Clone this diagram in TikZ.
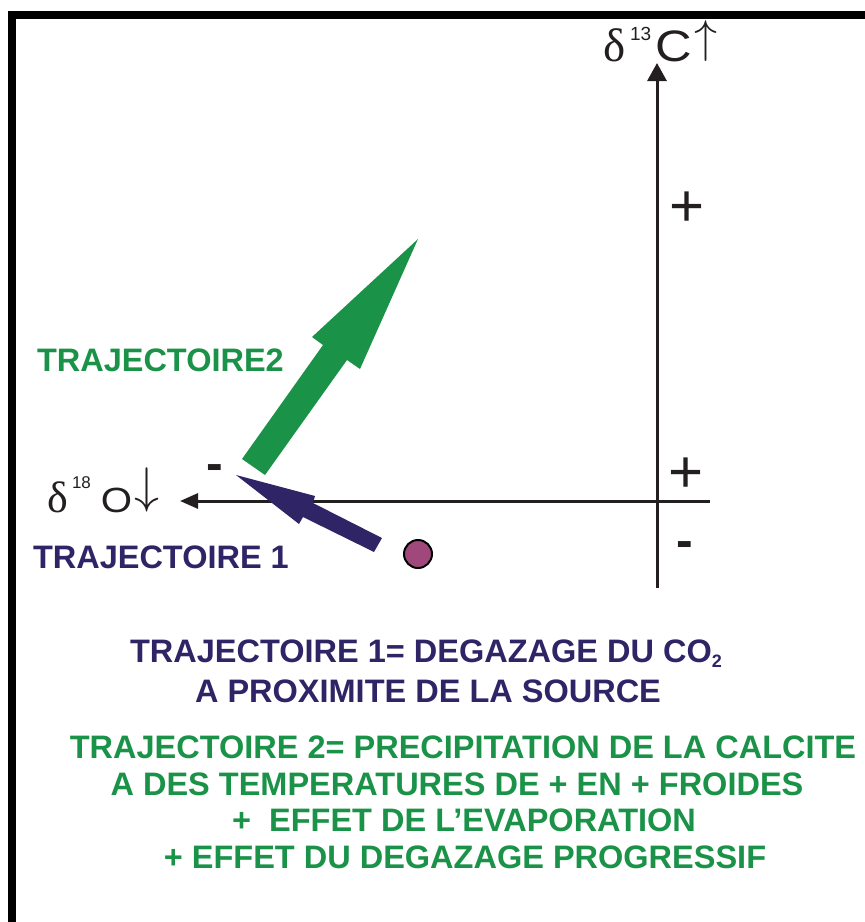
\documentclass[tikz,border=0pt]{standalone}
\usepackage{fontspec}
\usepackage{graphicx}
\usetikzlibrary{arrows.meta}
\setmainfont{Liberation Sans}
\newfontfamily\grk{Liberation Serif}
\newfontfamily\gothic{Liberation Sans}
\definecolor{tgreen}{RGB}{26,146,72}
\definecolor{tnavy}{RGB}{46,36,102}
\definecolor{tdot}{RGB}{160,72,124}
\definecolor{ink}{RGB}{35,31,32}
\tikzset{
  lbl/.style={inner sep=0pt, outer sep=0pt},
  boldtxt/.style={lbl, anchor=base, font=\fontsize{32.5}{32.5}\selectfont\bfseries},
  axisline/.style={draw=ink, line width=3pt},
  plussign/.style={lbl, anchor=center, text=ink, font=\fontsize{60}{60}\selectfont},
  minussign/.style={lbl, anchor=center, text=ink, font=\fontsize{50}{50}\selectfont\bfseries},
}
\begin{document}
\begin{tikzpicture}[x=1pt,y=-1pt]
\useasboundingbox (0,0) rectangle (865,922);
% frame
\fill[black] (8,11) rectangle (865,19);
\fill[black] (8,11) rectangle (16,922);
% axes
\coordinate (vbot) at (657,588);
\coordinate (vtop) at (657,63);
\coordinate (hright) at (710,501);
\coordinate (hleft) at (180,501);
\draw[axisline, -{Triangle[length=18pt,width=19pt]}] (vbot) -- (vtop);
\draw[axisline, -{Triangle[length=18pt,width=15pt]}] (hright) -- (hleft);
% axis labels
\node[lbl, anchor=base west, text=ink] (dC) at (603,61)
  {\makebox[27pt][l]{\grk\fontsize{47}{47}\selectfont δ}%
   \makebox[25pt][l]{\raisebox{21pt}{\gothic\fontsize{19}{19}\selectfont 13}}%
   \makebox[39pt][l]{\scalebox{1.15}[1]{\gothic\fontsize{44}{44}\selectfont C}}%
   \raisebox{8.9pt}{\scalebox{4.6}{$\uparrow$}}};
\node[lbl, anchor=base west, text=ink] (dO) at (47,512)
  {\makebox[25pt][l]{\grk\fontsize{44}{44}\selectfont δ}%
   \makebox[29pt][l]{\raisebox{24pt}{\gothic\fontsize{17}{17}\selectfont 18}}%
   \makebox[34pt][l]{\scalebox{1.15}[1]{\gothic\fontsize{35}{35}\selectfont O}}%
   \raisebox{9.7pt}{\scalebox{5}{$\downarrow$}}};
% signs
\node[plussign] (p1) at (687,209) {+};
\node[plussign] (p2) at (686,475) {+};
\node[minussign] (m1) at (685,550) {-};
\node[minussign] (m2) at (215,473) {-};
% trajectory arrows
\fill[tgreen] (242,459) -- (323,345) -- (312,337) -- (418,239) -- (360,369) -- (347,360) -- (265,475) -- cycle;
\fill[tnavy] (236,475) -- (315,496) -- (313,503) -- (382,538) -- (374,552) -- (303,517) -- (299,524) -- cycle;
% source dot
\node[circle, draw=black, line width=2pt, fill=tdot, minimum size=28pt, inner sep=0pt] (dot) at (418,554) {};
% labels
\node[boldtxt, anchor=base west, text=tgreen] (t2) at (37,371) {TRAJECTOIRE2};
\node[boldtxt, anchor=base west, text=tnavy] (t1) at (33,568) {TRAJECTOIRE 1};
% captions
\node[boldtxt, text=tnavy] (n1) at (426,662) {TRAJECTOIRE 1= DEGAZAGE DU CO\raisebox{-5pt}{\fontsize{18}{18}\selectfont 2}};
\node[boldtxt, text=tnavy] (n2) at (428,702) {A PROXIMITE DE LA SOURCE};
\node[boldtxt, text=tgreen] (g1) at (463,758) {TRAJECTOIRE 2= PRECIPITATION DE LA CALCITE};
\node[boldtxt, text=tgreen] (g2) at (457,795) {A DES TEMPERATURES DE + EN + FROIDES};
\node[boldtxt, text=tgreen] (g3) at (464,831) {+~ EFFET DE L’EVAPORATION};
\node[boldtxt, text=tgreen] (g4) at (465,868) {+ EFFET DU DEGAZAGE PROGRESSIF};
\end{tikzpicture}
\end{document}
